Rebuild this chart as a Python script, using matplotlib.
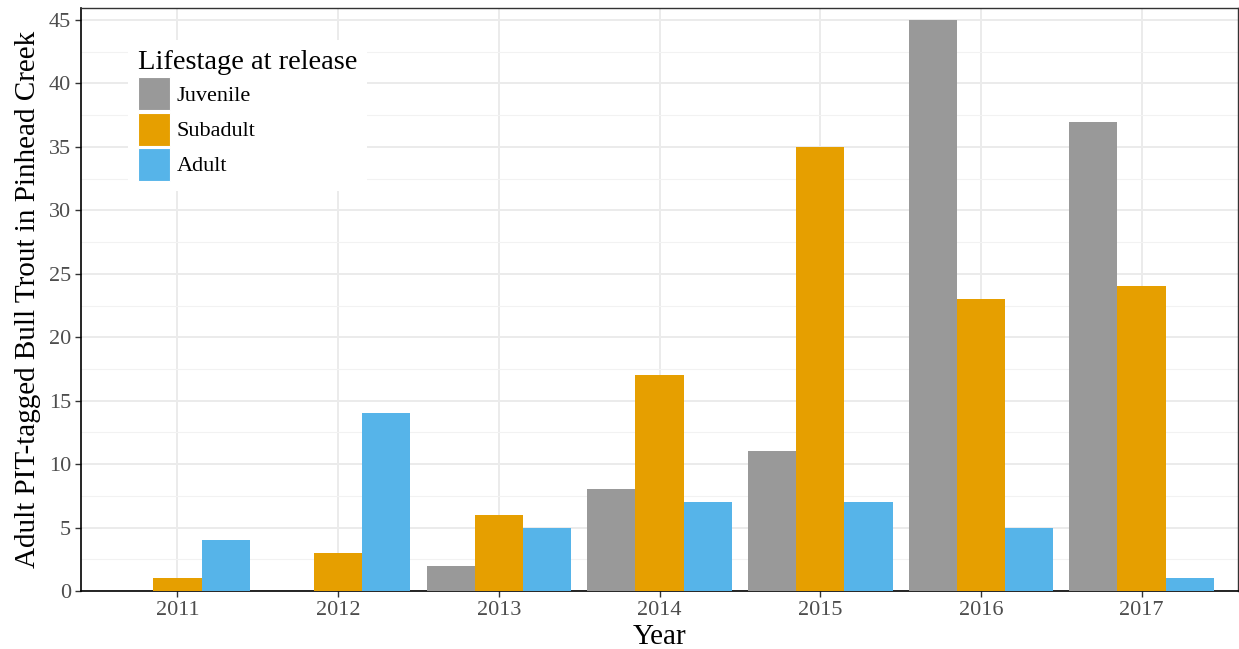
import numpy as np
import matplotlib.pyplot as plt
from matplotlib.patches import Patch

years = ["2011", "2012", "2013", "2014", "2015", "2016", "2017"]
stages = ["Juvenile", "Subadult", "Adult"]
juvenile = [0, 0, 2, 8, 11, 45, 37]
subadult = [1, 3, 6, 17, 35, 23, 24]
adult = [4, 14, 5, 7, 7, 5, 1]
colors = ["#999999", "#E69F00", "#56B4E9"]

plt.rcParams['font.family'] = ['Liberation Serif', 'DejaVu Serif']

fig = plt.figure(figsize=(12.39, 6.49), dpi=100)
ax = fig.add_axes([0.0654, 0.0894, 0.9338, 0.8983])

x = np.arange(len(years))
w = 0.3
for i, (vals, c) in enumerate(zip([juvenile, subadult, adult], colors)):
    ax.bar(x + (i - 1) * w, vals, width=w, color=c, zorder=3)

ax.set_xlim(-0.6, len(years) - 1 + 0.6)
ax.set_ylim(0, 45.95)
ax.set_xticks(x)
ax.set_xticklabels(years)
ax.set_yticks(np.arange(0, 50, 5))
ax.set_yticks(np.arange(2.5, 46, 5), minor=True)

ax.grid(which="major", color="#EBEBEB", linewidth=1.4, zorder=0)
ax.grid(which="minor", axis="y", color="#F2F2F2", linewidth=0.8, zorder=0)
ax.tick_params(axis="x", which="minor", bottom=False)
ax.tick_params(axis="y", which="minor", left=False)
ax.tick_params(which="major", length=4, width=1, color="#333333",
               labelsize=16, labelcolor="#4D4D4D", pad=3)

for s in ["top", "right"]:
    ax.spines[s].set_color("#333333")
    ax.spines[s].set_linewidth(1)
for s in ["left", "bottom"]:
    ax.spines[s].set_color("black")
    ax.spines[s].set_linewidth(1.2)

ax.set_xlabel("Year", fontsize=21, labelpad=3)
ax.set_ylabel("Adult PIT-tagged Bull Trout in Pinhead Creek", fontsize=21, labelpad=6)

handles = [Patch(facecolor=c, edgecolor="white", linewidth=0.8) for c in colors]
leg = ax.legend(handles, stages, title="Lifestage at release", loc="upper left",
                bbox_to_anchor=(0.0406, 0.945), borderaxespad=0,
                fontsize=16, title_fontsize=20.5,
                frameon=True, facecolor="white", edgecolor="none", framealpha=1,
                fancybox=False, handlelength=1.44, handleheight=1.91,
                labelspacing=0.1, handletextpad=0.3, borderpad=0.45,
                alignment="left")
leg.set_zorder(5)

fig.savefig("out.png", dpi=100)
